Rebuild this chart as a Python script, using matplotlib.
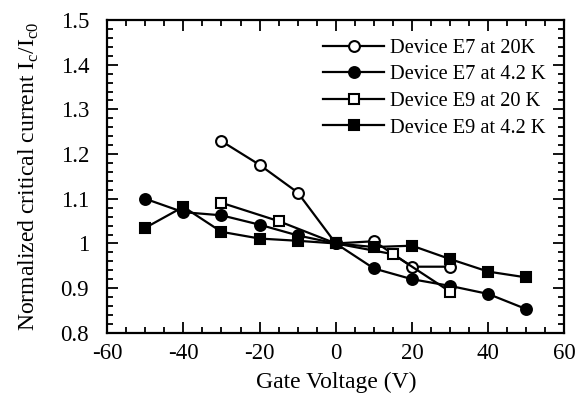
import matplotlib
matplotlib.use("Agg")
import matplotlib.pyplot as plt
from matplotlib.ticker import MultipleLocator

plt.rcParams['font.family'] = ['Liberation Serif', 'DejaVu Serif']
plt.rcParams['mathtext.fontset'] = 'custom'
plt.rcParams['mathtext.rm'] = 'Liberation Serif'
plt.rcParams['axes.unicode_minus'] = False

# data
v_e7_20k = [-30, -20, -10, 0, 10, 20, 30]
ic_e7_20k = [1.229, 1.176, 1.114, 1.0, 1.005, 0.948, 0.948]

v_e7_4k = [-50, -40, -30, -20, -10, 0, 10, 20, 30, 40, 50]
ic_e7_4k = [1.100, 1.070, 1.063, 1.042, 1.018, 1.0, 0.944, 0.920, 0.905, 0.887, 0.853]

v_e9_20k = [-30, -15, 0, 15, 30]
ic_e9_20k = [1.091, 1.050, 1.0, 0.976, 0.892]

v_e9_4k = [-50, -40, -30, -20, -10, 0, 10, 20, 30, 40, 50]
ic_e9_4k = [1.035, 1.082, 1.026, 1.011, 1.006, 1.0, 0.992, 0.995, 0.965, 0.937, 0.924]

labels = ["Device E7 at 20K", "Device E7 at 4.2 K",
          "Device E9 at 20 K", "Device E9 at 4.2 K"]

fig = plt.figure(figsize=(5.76, 4.01), dpi=100)
ax = fig.add_axes([0.186, 0.170, 0.794, 0.780])

kw = dict(color='black', lw=1.6, markersize=7.8, markeredgewidth=1.5)
ax.plot(v_e7_20k, ic_e7_20k, marker='o', mfc='white', label=labels[0], **kw)
ax.plot(v_e7_4k, ic_e7_4k, marker='o', mfc='black', label=labels[1], **kw)
ax.plot(v_e9_20k, ic_e9_20k, marker='s', mfc='white', label=labels[2], **kw)
ax.plot(v_e9_4k, ic_e9_4k, marker='s', mfc='black', label=labels[3], **kw)

ax.set_xlim(-60, 60)
ax.set_ylim(0.8, 1.5)
ax.xaxis.set_major_locator(MultipleLocator(20))
ax.xaxis.set_minor_locator(MultipleLocator(5))
ax.yaxis.set_minor_locator(MultipleLocator(0.02))
ax.set_yticks([0.8, 0.9, 1.0, 1.1, 1.2, 1.3, 1.4, 1.5])
ax.set_yticklabels(["0.8", "0.9", "1", "1.1", "1.2", "1.3", "1.4", "1.5"])

ax.tick_params(which='both', direction='in', top=True, right=True, width=1.3)
ax.tick_params(which='major', length=8, labelsize=16.5)
ax.tick_params(axis='y', pad=13)
ax.tick_params(axis='x', pad=7)
ax.tick_params(which='minor', length=4)
for s in ax.spines.values():
    s.set_linewidth(1.6)

ax.set_xlabel("Gate Voltage (V)", fontsize=17, labelpad=6)
ax.set_ylabel(r"Normalized critical current I$_\mathrm{c}$/I$_\mathrm{c0}$", fontsize=17, labelpad=14)

ax.legend(loc='upper right', frameon=False, fontsize=14.7, handlelength=3.0,
          labelspacing=0.36, handletextpad=0.3, bbox_to_anchor=(1.0, 1.0))

fig.savefig("out.png", dpi=100)
